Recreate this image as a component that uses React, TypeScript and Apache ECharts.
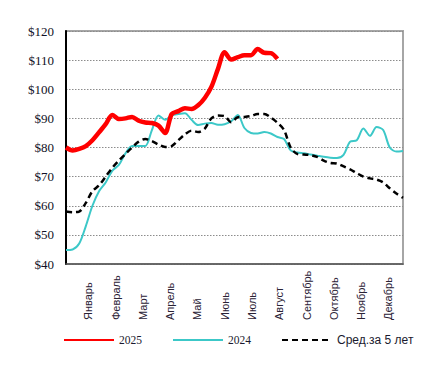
import React, { useEffect, useRef } from "react";
import * as echarts from "echarts";

const months = ["Январь", "Февраль", "Март", "Апрель", "Май", "Июнь", "Июль", "Август", "Сентябрь", "Октябрь", "Ноябрь", "Декабрь"];
const weeks = Array.from({ length: 52 }, (_, i) => String(i + 1));

const s2025 = [80.0, 79.0, 79.5, 80.5, 82.5, 85.2, 88.0, 91.2, 89.8, 90.0, 90.5, 89.2, 88.6, 88.4, 87.5, 85.0,
  91.5, 92.5, 93.5, 93.2, 94.5, 97.0, 100.8, 107.0, 112.7, 110.2, 111.0, 111.7, 111.7, 113.8, 112.5, 112.4, 110.4];
const s2024 = [44.8, 45.0, 47.0, 53.0, 60.0, 65.0, 68.0, 72.0, 74.0, 78.0, 80.5, 80.5, 80.5, 86.0, 91.0, 89.5,
  91.0, 91.5, 91.8, 89.5, 87.7, 88.2, 88.4, 87.8, 88.0, 89.0, 91.2, 86.7, 85.0, 84.8, 85.3, 84.8, 83.6, 82.9,
  79.0, 78.3, 78.0, 77.6, 77.2, 76.8, 76.5, 76.4, 77.5, 82.0, 82.5, 86.5, 84.0, 87.0, 86.0, 80.0, 78.6, 78.8];
const avg5 = [58.0, 57.8, 58.0, 61.0, 65.0, 67.0, 70.0, 73.0, 75.5, 77.8, 80.0, 82.0, 82.9, 82.2, 81.0, 80.2,
  80.5, 82.5, 84.5, 85.8, 85.3, 86.5, 90.0, 91.0, 90.8, 88.7, 90.4, 90.5, 90.8, 91.5, 91.5, 90.3, 88.5, 86.0,
  80.0, 77.8, 77.6, 77.4, 76.8, 75.5, 74.7, 74.5, 73.5, 72.5, 71.2, 70.0, 69.4, 69.0, 68.0, 66.0, 64.2, 62.7];

const SERIF = "'Liberation Serif', 'Times New Roman', serif";
const SANS = "'Liberation Sans', Arial, sans-serif";

export default function App() {
  const ref = useRef<HTMLDivElement>(null);
  useEffect(() => {
    if (!ref.current) return;
    const chart = echarts.init(ref.current, null, { renderer: "svg" });
    chart.setOption({
      animation: false,
      grid: [
        { left: 66, right: 26, top: 31, bottom: 109, show: true, borderColor: "#a6a6a6", borderWidth: 2, backgroundColor: "transparent" },
        { left: 74.7, right: 27, top: 31, bottom: 109, show: false },
      ],
      legend: {
        left: 63,
        top: 334,
        width: 380,
        padding: 0,
        itemWidth: 50,
        itemHeight: 14,
        itemGap: 30,
        itemStyle: { opacity: 0 },
        data: [
          { name: "2025", textStyle: { fontFamily: SERIF, fontSize: 11.5, color: "#1a1a2e" } },
          { name: "2024", textStyle: { fontFamily: SERIF, fontSize: 11.5, color: "#1a1a2e" } },
          { name: "Сред.за 5 лет", textStyle: { fontFamily: SANS, fontSize: 12, color: "#1a1a2e" } },
        ],
      },
      xAxis: [
        {
          type: "category",
          gridIndex: 0,
          data: weeks,
          boundaryGap: false,
          axisLine: { show: true, lineStyle: { color: "#555", width: 1.5 } },
          axisTick: { show: false },
          axisLabel: { show: false },
          splitLine: { show: false },
        },
        {
          type: "category",
          gridIndex: 1,
          data: months,
          boundaryGap: true,
          axisLine: { show: false },
          axisTick: { show: false },
          splitLine: { show: false },
          axisLabel: {
            interval: 0,
            rotate: 90,
            align: "left",
            verticalAlign: "middle",
            margin: 56,
            fontFamily: SANS,
            fontSize: 11,
            color: "#2a2235",
          },
        },
      ],
      yAxis: [
        {
          type: "value",
          gridIndex: 0,
          min: 40,
          max: 120,
          interval: 10,
          axisLine: { show: true, lineStyle: { color: "#000", width: 2 } },
          axisTick: { show: false },
          axisLabel: {
            formatter: (v: number) => "$" + v,
            fontFamily: SERIF,
            fontSize: 13,
            color: "#111126",
            margin: 12,
          },
          splitLine: { show: true, lineStyle: { color: "#8c8c8c", type: [1.5, 1.5], width: 1 } },
        },
        { type: "value", gridIndex: 1, min: 40, max: 120, show: false },
      ],
      series: [
        {
          name: "2024",
          type: "line",
          xAxisIndex: 0,
          yAxisIndex: 0,
          data: s2024,
          smooth: 0.3,
          symbol: "none",
          lineStyle: { color: "#3cc8c8", width: 2 },
          itemStyle: { color: "#3cc8c8" },
          z: 2,
        },
        {
          name: "Сред.за 5 лет",
          type: "line",
          xAxisIndex: 0,
          yAxisIndex: 0,
          data: avg5,
          smooth: 0.3,
          symbol: "none",
          lineStyle: { color: "#000", width: 2.5, type: [6, 4] },
          itemStyle: { color: "#000" },
          z: 3,
        },
        {
          name: "2025",
          type: "line",
          xAxisIndex: 0,
          yAxisIndex: 0,
          data: s2025,
          smooth: 0.3,
          symbol: "none",
          lineStyle: { color: "#ff0000", width: 4.5 },
          itemStyle: { color: "#ff0000" },
          z: 4,
        },
      ],
    });
    return () => chart.dispose();
  }, []);
  return (
    <div
      ref={ref}
      style={{ position: "fixed", left: 0, top: 0, width: 429, height: 373, background: "#fff" }}
    />
  );
}
